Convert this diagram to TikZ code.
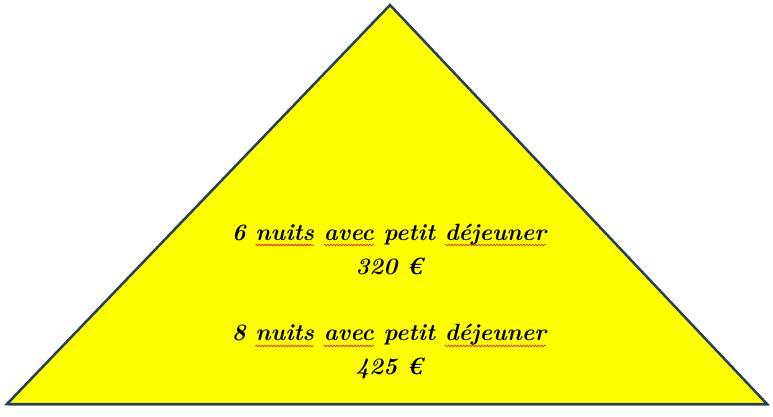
\documentclass[tikz,border=0pt]{standalone}
\usetikzlibrary{calc,decorations.pathmorphing}
\definecolor{navy}{HTML}{243F60}
\definecolor{tri}{HTML}{FFFF00}
\newsavebox\wbox
\newcommand\rwave[1]{\sbox\wbox{#1}\rlap{\tikz[overlay,baseline=0pt,x=1pt,y=1pt]\draw[red,line width=0.6pt,decorate,decoration={snake,amplitude=0.8pt,segment length=3pt}] (0,-5) -- (\wd\wbox,-5);}\usebox\wbox}
\tikzset{
  pyramid/.style={draw=navy, line width=2.5pt, fill=tri, line join=miter},
  label text/.style={font=\fontsize{23.5}{34}\selectfont\bfseries\itshape, align=center, text=black}
}
\begin{document}
\begin{tikzpicture}[x=1pt,y=-1pt]
\useasboundingbox (0,0) rectangle (773,416);
\coordinate (apex) at (390,5);
\coordinate (bl) at (7,404);
\coordinate (br) at (767,404);
\fill[black!35] ($(bl)+(2,2)$) -- ($(br)+(2,2)$) -- ($(br)+(2,0)$) -- ($(bl)+(2,0)$) -- cycle;
\draw[pyramid] (apex) -- (br) -- (bl) -- cycle;
\node[label text] (t1) at (389,249) {6 \rwave{nuits} \rwave{avec} petit \rwave{déjeuner}\\320 €};
\node[label text] (t2) at (389,352) {8 \rwave{nuits} \rwave{avec} petit \rwave{déjeuner}\\425 €};
\end{tikzpicture}
\end{document}
